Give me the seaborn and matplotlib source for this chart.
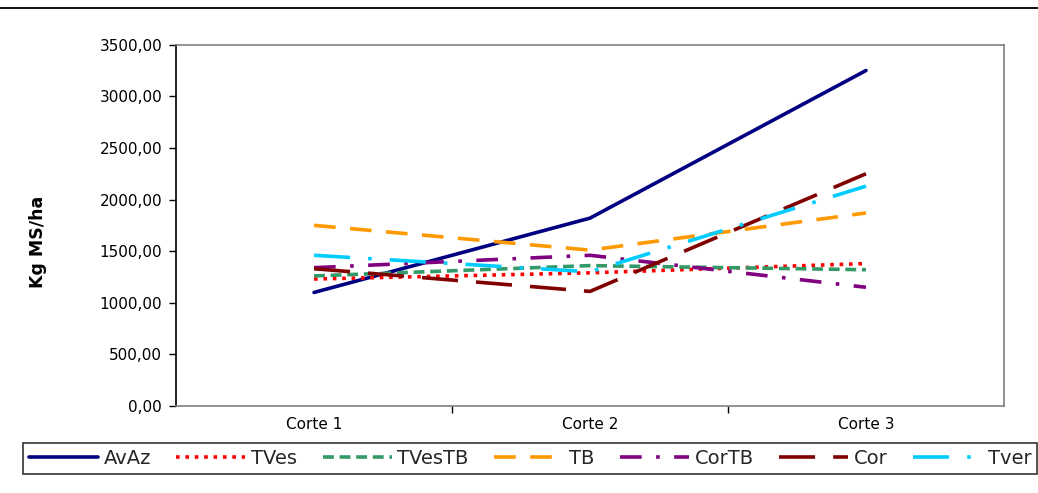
import matplotlib
matplotlib.use("Agg")
import matplotlib.pyplot as plt
import matplotlib.ticker as mticker
from matplotlib.lines import Line2D
import seaborn as sns
import pandas as pd

# Dry matter yield per cut (Kg MS/ha)
cortes = ["Corte 1", "Corte 2", "Corte 3"]
avaz = [1100, 1820, 3250]
tves = [1230, 1290, 1380]
tvestb = [1260, 1360, 1320]
tb = [1750, 1510, 1870]
cortb = [1340, 1460, 1150]
cor = [1330, 1110, 2250]
tver = [1460, 1300, 2130]

series_names = ["AvAz", "TVes", "TVesTB", "TB", "CorTB", "Cor", "Tver"]
series_values = [avaz, tves, tvestb, tb, cortb, cor, tver]

colors = {
    "AvAz": "#000080",
    "TVes": "#FF0000",
    "TVesTB": "#339966",
    "TB": "#FF9900",
    "CorTB": "#800080",
    "Cor": "#800000",
    "Tver": "#00CCFF",
}
dashes = {
    "AvAz": "",
    "TVes": (1, 1.6),
    "TVesTB": (3, 1.6),
    "TB": (6, 4),
    "CorTB": (6, 4, 1, 4),
    "Cor": (10, 5),
    "Tver": (10, 5, 1, 5),
}

rows = []
for name, vals in zip(series_names, series_values):
    for i, v in enumerate(vals):
        rows.append({"pos": i, "corte": cortes[i], "serie": name, "valor": v})
df = pd.DataFrame(rows)

sns.set_theme(style="white")
plt.rcParams["font.family"] = ["DejaVu Sans"]

fig = plt.figure(figsize=(10.38, 4.93), dpi=100)
ax = fig.add_axes([0.1696, 0.1765, 0.7976, 0.7328])

sns.lineplot(data=df, x="pos", y="valor", hue="serie", style="serie",
             palette=colors, dashes=dashes, hue_order=series_names,
             style_order=series_names, linewidth=2.6, ax=ax, legend=False,
             sort=False)

ax.set_xlim(-0.5, 2.5)
ax.set_ylim(0, 3500)
ax.yaxis.set_major_locator(mticker.MultipleLocator(500))
ax.yaxis.set_major_formatter(mticker.FuncFormatter(lambda v, p: f"{v:.2f}".replace(".", ",")))

ax.xaxis.set_major_locator(mticker.FixedLocator([0.5, 1.5]))
ax.xaxis.set_major_formatter(mticker.NullFormatter())
ax.xaxis.set_minor_locator(mticker.FixedLocator([0, 1, 2]))
ax.xaxis.set_minor_formatter(mticker.FixedFormatter(cortes))
ax.tick_params(axis="x", which="major", direction="out", length=5, width=1, color="black", bottom=True)
ax.tick_params(axis="x", which="minor", length=0, labelsize=11, pad=8, colors="black")
ax.tick_params(axis="y", direction="out", length=5, width=1, color="black", left=True,
               labelsize=11, pad=5, labelcolor="black")

ax.set_xlabel("")
ax.set_ylabel("Kg MS/ha", fontsize=12.5, fontweight="bold", color="black")
ax.yaxis.set_label_coords(-0.156, 0.454)

for side in ["top", "right", "bottom"]:
    ax.spines[side].set_color("#808080")
    ax.spines[side].set_linewidth(1.2)
ax.spines["left"].set_color("black")
ax.spines["left"].set_linewidth(1.2)
ax.grid(False)

# Legend below the axes
handles = [Line2D([0], [0], color=colors[n], lw=2.6,
                  linestyle=(0, dashes[n]) if dashes[n] else "-")
           for n in series_names]
leg = fig.legend(handles, series_names, loc="center", ncol=7,
                 bbox_to_anchor=(0.5106, 0.0705), frameon=True, fancybox=False,
                 fontsize=14, handlelength=3.55, handletextpad=0.3,
                 columnspacing=1.3, borderpad=0.3)
leg.get_frame().set_edgecolor("black")
leg.get_frame().set_linewidth(1.2)

# Rule across the top of the figure
fig.add_artist(Line2D([0, 1], [0.983, 0.983], transform=fig.transFigure,
                      color="black", lw=1.3))

fig.savefig("out.png", dpi=100)
